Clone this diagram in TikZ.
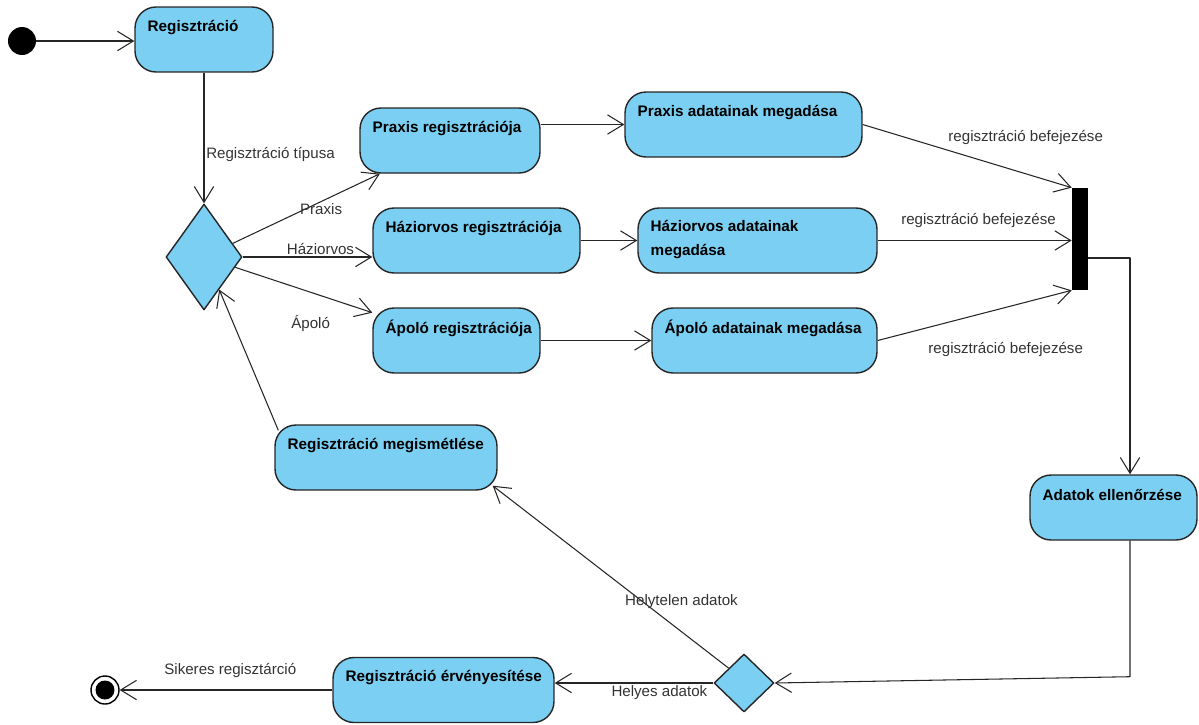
\documentclass[tikz,border=0pt]{standalone}
\usepackage{fontspec}
\setmainfont{Liberation Sans}
\usetikzlibrary{arrows.meta,shapes.geometric,positioning}
\definecolor{actblue}{RGB}{122,207,242}
\begin{document}
\begin{tikzpicture}[x=0.02cm,y=-0.02cm,line join=round,
  font=\fontsize{8.6}{10}\selectfont,
  >={Straight Barb[length=9pt,width=11pt]},
  act/.style={draw=black!85,line width=0.8pt,fill=actblue,rounded corners=0.42cm,minimum height=1.3cm,inner sep=0pt},
  acttxt/.style={anchor=west,align=left,inner sep=0pt,font=\fontsize{8.7}{13.6}\selectfont\bfseries},
  choice/.style={diamond,draw=black!85,line width=0.8pt,fill=actblue,inner sep=0pt},
  flow/.style={->,line width=0.6pt,draw=black!85},
  lbl/.style={inner sep=1pt,text=black!80}]
\useasboundingbox (0,0) rectangle (1199,724);
% start and end
\node[circle,fill=black,minimum size=0.56cm,inner sep=0pt] (start) at (22,41) {};
\node[circle,draw=black,line width=0.8pt,fill=white,minimum size=0.56cm,inner sep=0pt,
  path picture={\fill[black] (path picture bounding box.center) circle (0.19cm);}] (end) at (105,690) {};
% actions
\foreach \n/\x/\y/\w/\dy/\t in {reg/204/39.5/2.76/21/Regisztráció,
  praxreg/450/140.5/3.6/21/Praxis regisztrációja,
  praxadat/743.5/124.5/4.74/21/Praxis adatainak megadása,
  hazreg/476.5/240.5/4.14/21/Háziorvos regisztrációja,
  hazadat/757.5/240.5/4.78/32/{Háziorvos adatainak\\megadása},
  apreg/456.5/340.5/3.34/21/Ápoló regisztrációja,
  apadat/764.5/340.5/4.5/21/Ápoló adatainak megadása,
  ell/1113.5/507.5/3.34/21/Adatok ellenőrzése,
  megism/386/457.5/4.44/21/Regisztráció megismétlése,
  erveny/443.5/690/4.42/21/Regisztráció érvényesítése}
 {\node[act,minimum width=\w cm] (\n) at (\x,\y) {};
  \node[acttxt] (\n-t) at ([shift={(13,\dy)}]\n.north west) {\t};}
% decisions and join
\node[choice,minimum width=1.52cm,minimum height=2.12cm] (dec1) at (204,257) {};
\node[choice,minimum width=1.2cm,minimum height=1.16cm] (dec2) at (744,683) {};
\node[fill=black,minimum width=0.32cm,minimum height=2.04cm,inner sep=0pt] (join) at (1080,239) {};
% flows
\draw[flow] (start) -- (start -| reg.west);
\draw[flow] (reg) -- node[lbl,pos=0.63,anchor=west]{Regisztráció típusa} (dec1);
\draw[flow] (dec1) -- node[lbl,pos=0.6,below]{Praxis} (praxreg);
\draw[flow] (dec1.east) -- node[lbl,pos=0.6,above]{Háziorvos} (dec1.east -| hazreg.west);
\draw[flow] (dec1) -- node[lbl,pos=0.55,yshift=-0.62cm]{Ápoló} (apreg);
\draw[flow] (praxreg.east |- praxadat.west) -- (praxadat.west);
\draw[flow] (hazreg) -- (hazadat);
\draw[flow] (apreg) -- (apadat);
\draw[flow] (praxadat.east) -- node[lbl,pos=0.78,yshift=0.72cm]{regisztráció befejezése} (join.north west);
\draw[flow] (hazadat.east) -- node[lbl,pos=0.52,yshift=0.41cm]{regisztráció befejezése} (hazadat.east -| join.west);
\draw[flow] (apadat.east) -- node[lbl,pos=0.66,yshift=-0.85cm]{regisztráció befejezése} (join.south west);
\draw[flow] ([yshift=-0.38cm]join.east) -| ([xshift=0.33cm]ell.north);
\draw[flow] ([xshift=0.33cm]ell.south) -- ++(0,136) -- (dec2.east);
\draw[flow] (dec2.west) -- node[lbl,pos=0.34,below]{Helyes adatok} (dec2.west -| erveny.east);
\draw[flow] (dec2.north west) -- node[lbl,pos=0.2,yshift=0.61cm]{Helytelen adatok} ([shift={(-5,-5)}]megism.south east);
\draw[flow] ([shift={(4,6)}]megism.north west) -- (dec1.-65);
\draw[flow] (erveny.west) -- node[lbl,pos=0.48,above,yshift=0.2cm]{Sikeres regisztárció} (end);
\end{tikzpicture}
\end{document}
